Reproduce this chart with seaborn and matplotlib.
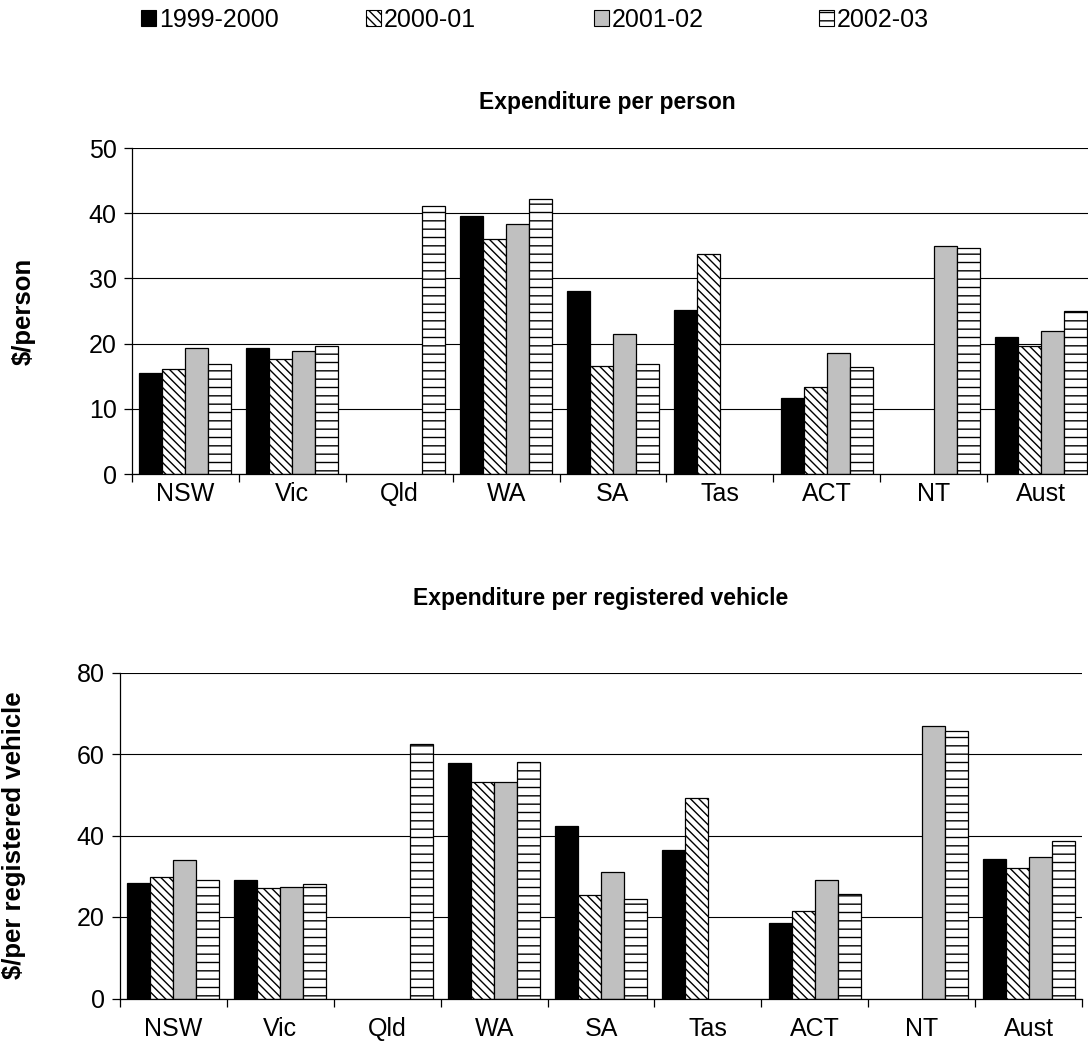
import numpy as np
import pandas as pd
import seaborn as sns
import matplotlib
matplotlib.use("Agg")
import matplotlib.pyplot as plt
from matplotlib.patches import Patch
from matplotlib.ticker import FixedLocator, NullFormatter

nan = np.nan

states = ["NSW", "Vic", "Qld", "WA", "SA", "Tas", "ACT", "NT", "Aust"]
years = ["1999-2000", "2000-01", "2001-02", "2002-03"]

# Expenditure per person ($)
person_1999 = [15.5, 19.3, nan, 39.5, 28.0, 25.2, 11.6, nan, 21.0]
person_2000 = [16.1, 17.6, nan, 36.1, 16.5, 33.8, 13.4, nan, 19.7]
person_2001 = [19.3, 18.9, nan, 38.3, 21.5, nan, 18.6, 34.9, 22.0]
person_2002 = [16.9, 19.6, 41.1, 42.2, 16.9, nan, 16.4, 34.6, 25.0]

# Expenditure per registered vehicle ($)
vehicle_1999 = [28.3, 29.1, nan, 57.7, 42.3, 36.4, 18.5, nan, 34.2]
vehicle_2000 = [29.7, 27.0, nan, 53.2, 25.4, 49.1, 21.4, nan, 32.0]
vehicle_2001 = [33.9, 27.4, nan, 53.1, 31.0, nan, 29.2, 66.9, 34.8]
vehicle_2002 = [29.2, 28.0, 62.4, 58.0, 24.3, nan, 25.6, 65.6, 38.6]

sns.set_style("white")
plt.rcParams["font.family"] = ["Liberation Sans", "DejaVu Sans"]
plt.rcParams["hatch.linewidth"] = 1.0

TICK_FS = 18
TITLE_FS = 16.5
YLABEL_FS = 18.5

# fill colour and hatch for each year
faces = ["black", "white", "#c0c0c0", "white"]
hatches = [None, "\\\\\\\\", None, "--"]


def to_long(series):
    rows = []
    for year, vals in zip(years, series):
        for st, v in zip(states, vals):
            if not np.isnan(v):
                rows.append({"state": st, "year": year, "value": v})
    return pd.DataFrame(rows)


def draw(ax, series, ymax, ystep, xpad):
    df = to_long(series)
    sns.barplot(data=df, x="state", y="value", hue="year", order=states,
                hue_order=years, width=0.86, errorbar=None, legend=False,
                ax=ax, linewidth=0.9, edgecolor="black")
    for cont, fc, h in zip(ax.containers, faces, hatches):
        for bar in cont:
            bar.set_facecolor(fc)
            bar.set_edgecolor("black")
            if h:
                bar.set_hatch(h)
    ax.set_xlim(-0.5, len(states) - 0.5)
    ax.set_ylim(0, ymax)
    ax.set_yticks(np.arange(0, ymax + 1, ystep))
    ax.yaxis.grid(True, color="black", linewidth=0.8)
    ax.set_axisbelow(True)
    for s in ["top", "right"]:
        ax.spines[s].set_visible(False)
    for s in ["left", "bottom"]:
        ax.spines[s].set_color("black")
        ax.spines[s].set_linewidth(0.9)
    ax.tick_params(axis="y", which="major", direction="out", length=6,
                   width=0.9, color="black", left=True, labelsize=TICK_FS,
                   pad=5, labelcolor="black")
    ax.set_xticks(range(len(states)))
    ax.set_xticklabels(states)
    ax.tick_params(axis="x", which="major", length=0, labelsize=TICK_FS,
                   pad=xpad, labelcolor="black")
    ax.xaxis.set_minor_locator(FixedLocator(np.arange(-0.5, len(states), 1.0)))
    ax.xaxis.set_minor_formatter(NullFormatter())
    ax.tick_params(axis="x", which="minor", direction="out", length=6,
                   width=0.9, color="black", bottom=True)
    ax.set_xlabel("")
    ax.set_ylabel("")
    return ax


fig = plt.figure(figsize=(10.88, 10.5), dpi=100)
W, H = 1088, 1050

ax1 = fig.add_axes([132 / W, 1 - 474 / H, 962 / W, 326 / H])
draw(ax1, [person_1999, person_2000, person_2001, person_2002], 50, 10, 6)
ax2 = fig.add_axes([120 / W, 1 - 998.5 / H, 962 / W, 326 / H])
draw(ax2, [vehicle_1999, vehicle_2000, vehicle_2001, vehicle_2002], 80, 20, 13)

fig.text(607 / W, 1 - 102 / H, "Expenditure per person", ha="center",
         va="center", fontsize=TITLE_FS, fontweight="bold", color="black")
fig.text(601 / W, 1 - 598 / H, "Expenditure per registered vehicle",
         ha="center", va="center", fontsize=TITLE_FS, fontweight="bold",
         color="black")
fig.text(24 / W, 1 - 311 / H, "$/person", rotation=90, ha="center",
         va="center", fontsize=YLABEL_FS, fontweight="bold", color="black")
fig.text(14 / W, 1 - 835 / H, "$/per registered vehicle", rotation=90,
         ha="center", va="center", fontsize=YLABEL_FS, fontweight="bold",
         color="black")

# legend row across the top, one entry per year at even spacing
legend_x = [141, 366, 594, 819]
for year, fc, h, lx in zip(years, faces, hatches, legend_x):
    handle = Patch(facecolor=fc, edgecolor="black", hatch=h, linewidth=0.8,
                   label=year)
    fig.legend(handles=[handle], loc="center left",
               bbox_to_anchor=(lx / W, 1 - 20 / H), frameon=False,
               fontsize=TICK_FS, handlelength=0.6, handleheight=0.6,
               handletextpad=0.12, borderpad=0, borderaxespad=0,
               labelcolor="black")

fig.savefig("out.png", dpi=100)
